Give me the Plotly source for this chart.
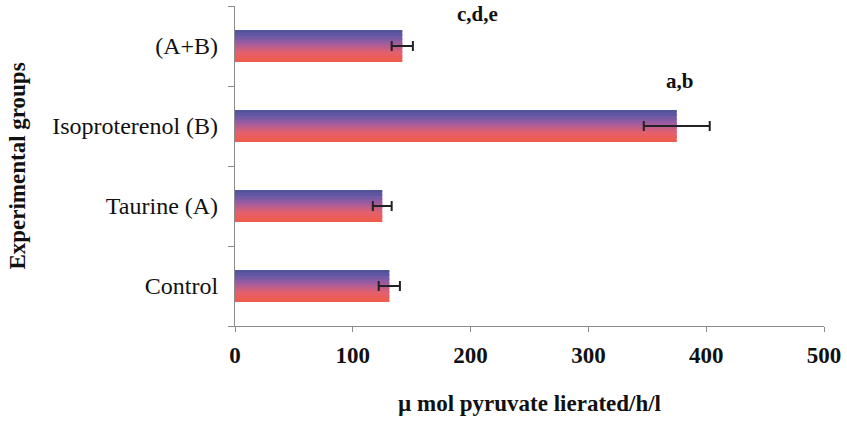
import plotly.graph_objects as go

# Data
groups = ["Control", "Taurine (A)", "Isoproterenol (B)", "(A+B)"]
means = [131, 125, 375, 142]
errors = [9, 8, 28, 9]
sig_labels = ["", "", "a,b", "c,d,e"]
sig_x = [0, 0, 377, 206]
x_ticks = [0, 100, 200, 300, 400, 500]

# Gradient for bars, bottom (red) to top (slate blue)
stops = [(0.0, (240, 92, 72)), (0.3, (228, 96, 108)), (0.6, (160, 92, 160)),
         (0.85, (100, 88, 166)), (1.0, (80, 82, 150))]


def grad_color(t):
    for (t0, c0), (t1, c1) in zip(stops[:-1], stops[1:]):
        if t <= t1:
            f = (t - t0) / (t1 - t0)
            return "rgb(%d,%d,%d)" % tuple(round(a + (b - a) * f) for a, b in zip(c0, c1))
    return "rgb(%d,%d,%d)" % stops[-1][1]


FONT = "Liberation Serif, Times New Roman, serif"
bar_w = 0.39
n_strips = 24
strip_w = bar_w / n_strips

fig = go.Figure()
for i in range(n_strips):
    t = (i + 0.5) / n_strips
    fig.add_trace(go.Bar(
        x=means, y=groups, orientation="h",
        width=strip_w * 1.02, offset=-bar_w / 2 + i * strip_w,
        marker=dict(color=grad_color(t), line=dict(width=0)),
        hoverinfo="skip", showlegend=False,
    ))

# Error bars
fig.add_trace(go.Scatter(
    x=means, y=groups, mode="markers",
    marker=dict(size=1, color="rgba(0,0,0,0)"),
    error_x=dict(type="data", array=errors, visible=True,
                 color="#222222", thickness=2, width=5),
    showlegend=False, hoverinfo="skip",
))

# Significance labels above bars
for g, lab, xv in zip(groups, sig_labels, sig_x):
    if lab:
        fig.add_annotation(x=xv, y=g, text="<b>%s</b>" % lab, showarrow=False,
                           yshift=32 if g == "(A+B)" else 45,
                           font=dict(family=FONT, size=21, color="#111"))

fig.update_layout(
    width=847, height=423,
    margin=dict(l=235, r=21, t=6, b=97),
    paper_bgcolor="white", plot_bgcolor="white",
    barmode="overlay",
    font=dict(family=FONT, color="#111"),
    xaxis=dict(
        range=[0, 500], tickvals=x_ticks,
        ticktext=["<b>%d</b>" % v for v in x_ticks],
        showgrid=False, zeroline=False,
        showline=True, linecolor="#8a8a8a", linewidth=1.2,
        ticks="outside", ticklen=5, tickcolor="#8a8a8a",
        tickfont=dict(family=FONT, size=23, color="#111"),
        ticklabelstandoff=3,
        title=dict(text="<b>\u00b5 mol pyruvate lierated/h/l</b>",
                   font=dict(family=FONT, size=23, color="#111"), standoff=28),
    ),
    yaxis=dict(
        type="category", categoryorder="array", categoryarray=groups,
        range=[-0.5, 3.5],
        showgrid=False, zeroline=False,
        showline=True, linecolor="#8a8a8a", linewidth=1.2,
        ticks="outside", tickson="boundaries", ticklen=6, tickcolor="#8a8a8a",
        tickfont=dict(family=FONT, size=24, color="#111"),
        ticklabelstandoff=11,
        title=dict(text="<b>Experimental groups</b>",
                   font=dict(family=FONT, size=23, color="#111"), standoff=20),
    ),
)

fig.write_html("out.html")
